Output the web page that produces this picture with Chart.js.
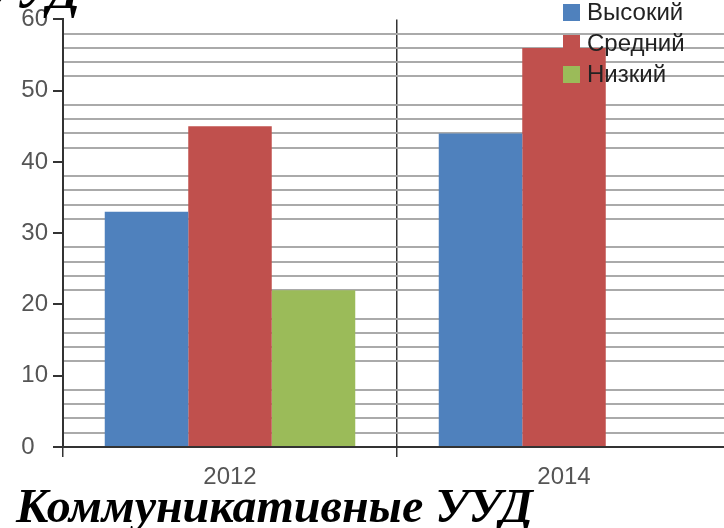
<!DOCTYPE html>
<html>
<head>
<meta charset="utf-8">
<script src="https://cdn.jsdelivr.net/npm/chart.js@4"></script>
<style>
  html, body { margin: 0; padding: 0; background: #fff; }
  #wrap { position: relative; width: 724px; height: 528px; overflow: hidden; }
  #chart { position: absolute; left: 0; top: 0; }
  .title {
    position: absolute;
    font-family: "Liberation Serif", "Times New Roman", serif;
    font-weight: bold;
    font-style: italic;
    font-size: 48px;
    line-height: 48px;
    color: #000;
    white-space: nowrap;
  }
  #legend { position: absolute; left: 563px; top: 0; }
  .item { position: absolute; left: 0; height: 24px; display: flex; align-items: center; white-space: nowrap;
    font-family: "Liberation Sans", Arial, sans-serif; font-size: 24px; color: #222; }
  .box { width: 17px; height: 17px; margin-right: 7px; }
</style>
</head>
<body>
<div id="wrap">
  <canvas id="chart" width="740" height="528"></canvas>
  <div class="title" style="left:-200px; width:280px; top:-32px; text-align:right;">УУД</div>
  <div class="title" style="left:16px; top:482px;">Коммуникативные УУД</div>
  <div id="legend"></div>
</div>
<script>
"use strict";

const categories = ["2012", "2014"];
const seriesNames = ["Высокий", "Средний", "Низкий"];
const highValues = [33, 44];
const midValues = [45, 56];
const lowValues = [22, 0];
const seriesColors = ["#4F81BD", "#C0504D", "#9BBB59"];
const yMax = 60;
const yLabelStep = 10;
const yGridStep = 2;

const seriesValues = [highValues, midValues, lowValues];

Chart.defaults.font.family = "'Liberation Sans', Arial, sans-serif";

new Chart(document.getElementById("chart"), {
  type: "bar",
  data: {
    labels: categories,
    datasets: seriesNames.map((name, i) => ({
      label: name,
      data: seriesValues[i],
      backgroundColor: seriesColors[i],
      borderWidth: 0,
      categoryPercentage: 0.75,
      barPercentage: 1.0,
    })),
  },
  options: {
    responsive: false,
    animation: false,
    layout: { padding: { top: 15, right: 9, left: 0, bottom: 0 } },
    plugins: {
      legend: { display: false },
      tooltip: { enabled: false },
    },
    scales: {
      x: {
        offset: true,
        grid: {
          offset: true,
          color: "#333",
          lineWidth: 1.5,
          tickLength: 10,
          tickColor: "#333",
        },
        border: { color: "#333", width: 2 },
        ticks: { color: "#555", font: { size: 24 }, padding: 6 },
        afterFit: (scale) => {
          scale.height = 81;
        },
      },
      y: {
        min: 0,
        max: yMax,
        ticks: {
          stepSize: yGridStep,
          autoSkip: false,
          color: "#555",
          font: { size: 24 },
          padding: 5,
          // the zero label sits a little further left in the original
          callback: (v) => (v === 0 ? "0  " : v % yLabelStep === 0 ? v : ""),
        },
        grid: {
          color: (ctx) =>
            ctx.tick && ctx.tick.value % yLabelStep === 0 ? "rgba(0,0,0,0)" : "#aaaaaa",
          lineWidth: 2,
          tickLength: 10,
          tickWidth: 2,
          tickColor: (ctx) =>
            ctx.tick && ctx.tick.value % yLabelStep === 0 ? "#333" : "rgba(0,0,0,0)",
        },
        border: { color: "#333", width: 2 },
        afterFit: (scale) => {
          scale.width = 63;
        },
      },
    },
  },
});

// vertical legend, top right, over the plot
const legend = document.getElementById("legend");
seriesNames.forEach((name, i) => {
  const item = document.createElement("div");
  item.className = "item";
  item.style.top = 31 * i + "px";
  const box = document.createElement("div");
  box.className = "box";
  box.style.background = seriesColors[i];
  item.appendChild(box);
  item.appendChild(document.createTextNode(name));
  legend.appendChild(item);
});
</script>
</body>
</html>
